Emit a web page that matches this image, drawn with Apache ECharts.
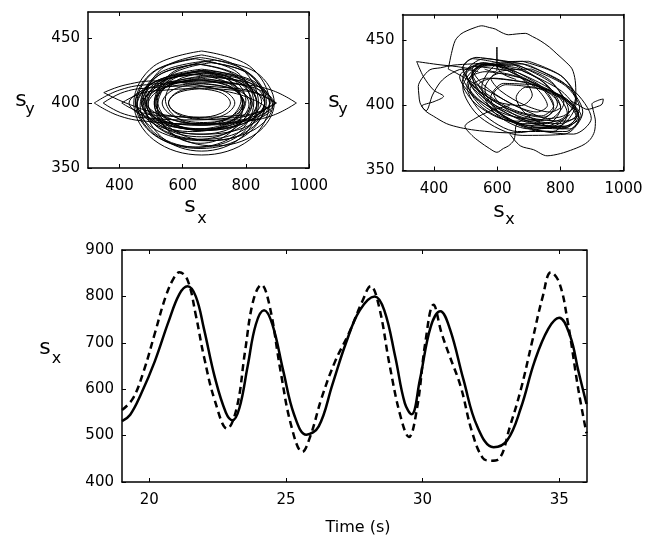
<!DOCTYPE html>
<html>
<head>
<meta charset="utf-8">
<script src="https://cdn.jsdelivr.net/npm/echarts@6/dist/echarts.min.js"></script>
<style>
html,body{margin:0;padding:0;background:#fff;}
#chart{width:650px;height:538px;}
</style>
</head>
<body>
<div id="chart"></div>
<script>
// ---------- tick labels ----------
const phaseXTicks = [400, 600, 800, 1000];
const phaseYTicks = [350, 400, 450];
const timeTicks = [20, 25, 30, 35];
const sxTicks = [400, 500, 600, 700, 800, 900];

// ---------- bottom panel: s_x over time ----------
const solidT  = [19.0,19.3,19.7,20.2,20.7,21.1,21.4,21.7,22.0,22.4,22.8,23.05,23.3,23.6,23.9,24.2,24.5,24.9,25.3,25.75,26.2,26.7,27.2,27.7,28.25,28.6,29.0,29.35,29.6,29.9,30.3,30.65,31.0,31.5,32.0,32.6,33.1,33.6,34.1,34.6,35.0,35.4,35.7,36.0];
const solidSx = [531,545,590,660,745,805,822,800,730,625,550,533,560,650,740,770,740,640,545,502,520,610,700,770,800,770,670,570,546,620,735,768,730,620,520,475,490,560,660,730,754,715,640,568];
const dashedT  = [19.0,19.4,19.8,20.2,20.6,20.9,21.1,21.4,21.7,22.0,22.4,22.85,23.2,23.5,23.8,24.1,24.4,24.8,25.2,25.6,25.9,26.3,26.8,27.3,27.8,28.1,28.4,28.8,29.2,29.5,29.8,30.1,30.4,30.7,31.0,31.4,31.8,32.2,32.5,32.8,33.2,33.6,34.0,34.4,34.7,35.0,35.3,35.7,36.0];
const dashedSx = [555,580,640,720,800,840,852,835,760,670,575,515,560,680,790,825,780,640,520,465,500,580,660,720,790,822,780,650,540,497,560,700,782,720,670,605,510,452,446,450,520,600,700,800,852,830,750,600,505];

// ---------- top-left panel: model trajectory (s_x, s_y) ----------
const leftLoops = [
 [[660,440],[812,428.3],[875,400],[812,371.7],[660,360],[508,371.7],[445,400],[508,428.3],[660,440]],
 [[655,435],[800,424.7],[860,400],[800,375.3],[655,365],[510,375.3],[450,400],[510,424.7],[655,435]],
 [[665,432],[803,423.2],[860,402],[803,380.8],[665,372],[527,380.8],[470,402],[527,423.2],[665,432]],
 [[650,430],[781,420.6],[835,398],[781,375.4],[650,366],[519,375.4],[465,398],[519,420.6],[650,430]],
 [[660,426],[784,418.4],[835,400],[784,381.6],[660,374],[536,381.6],[485,400],[536,418.4],[660,426]],
 [[670,423],[804,416.6],[860,401],[804,385.4],[670,379],[536,385.4],[480,401],[536,416.6],[670,423]],
 [[655,424],[772,417],[820,400],[772,383],[655,376],[538,383],[490,400],[538,417],[655,424]],
 [[660,419],[766,413.1],[810,399],[766,384.9],[660,379],[554,384.9],[510,399],[554,413.1],[660,419]],
 [[650,418],[749,413],[790,401],[749,389],[650,384],[551,389],[510,401],[551,413],[650,418]],
 [[665,415],[757,410.6],[795,400],[757,389.4],[665,385],[573,389.4],[535,400],[573,410.6],[665,415]],
 [[653,411],[722,407.8],[751,400],[722,392.2],[653,389],[584,392.2],[555,400],[584,407.8],[653,411]],
 [[660,412.5],[734,408.8],[765,400],[734,391.2],[660,387.5],[586,391.2],[555,400],[586,408.8],[660,412.5]],
 [[680,420],[821,414.7],[880,402],[821,389.3],[680,384],[539,389.3],[480,402],[539,414.7],[680,420]],
 [[670,425],[822,417.1],[885,398],[822,378.9],[670,371],[518,378.9],[455,398],[518,417.1],[670,425]],
 [[645,430],[765,421.5],[815,401],[765,380.5],[645,372],[525,380.5],[475,401],[525,421.5],[645,430]],
 [[660,437],[787,426.2],[840,400],[787,373.8],[660,363],[533,373.8],[480,400],[533,426.2],[660,437]],
 [[675,421],[788,414.8],[835,400],[788,385.2],[675,379],[562,385.2],[515,400],[562,414.8],[675,421]],
 [[640,418],[750,412.4],[795,399],[750,385.6],[640,380],[530,385.6],[485,399],[530,412.4],[640,418]],
 [[665,423],[750,417.1],[785,403],[750,388.9],[665,383],[580,388.9],[545,403],[580,417.1],[665,423]],
 [[655,425],[750,416.8],[790,397],[750,377.2],[655,369],[560,377.2],[520,397],[560,416.8],[655,425]],
 [[700,433],[834,423.3],[890,400],[834,376.7],[700,367],[566,376.7],[510,400],[566,423.3],[700,433]],
 [[630,422],[743,415.6],[790,400],[743,384.4],[630,378],[517,384.4],[470,400],[517,415.6],[630,422]],
 [[660,417],[822.6,412],[890,400],[822.6,388],[660,383],[497.4,388],[430,400],[497.4,412],[660,417]],
 [[650,422],[791.4,415.8],[850,401],[791.4,386.2],[650,380],[508.6,386.2],[450,401],[508.6,415.8],[650,422]],
 [[675,418],[805.8,412.4],[860,399],[805.8,385.6],[675,380],[544.2,385.6],[490,399],[544.2,412.4],[675,418]],
 [[665,424],[813.5,417],[875,400],[813.5,383],[665,376],[516.5,383],[455,400],[516.5,417],[665,424]],
 [[645,415],[768.7,410.3],[820,399],[768.7,387.7],[645,383],[521.3,387.7],[470,399],[521.3,410.3],[645,415]],
 [[690,431],[813.7,422.2],[865,401],[813.7,379.8],[690,371],[566.3,379.8],[515,401],[566.3,422.2],[690,431]],
 [[640,434],[770.8,424],[825,400],[770.8,376],[640,366],[509.2,376],[455,400],[509.2,424],[640,434]],
 [[660,425],[759,418.3],[800,402],[759,385.7],[660,379],[561,385.7],[520,402],[561,418.3],[660,425]]
];
const leftLenses = [
 [[320,400],[400,410],[500,414.4],[640,416],[780,414.4],[880,410],[960,400]],
 [[320,400],[400,390],[500,385.6],[640,384],[780,385.6],[880,390],[960,400]],
 [[348,400],[416,408.6],[500,411.7],[620,413],[740,411.7],[824,408.6],[892,400]],
 [[348,400],[416,391.4],[500,388.3],[620,387],[740,388.3],[824,391.4],[892,400]],
 [[407,400],[468,407.3],[544,409.9],[652,411],[760,409.9],[836,407.3],[897,400]],
 [[407,400],[468,392.7],[544,390.1],[652,389],[760,390.1],[836,392.7],[897,400]],
 [[350,408],[420,414],[520,417],[615,415],[720,410],[820,403],[880,394]],
 [[350,408],[420,400],[520,392],[615,389],[720,387],[820,387],[880,394]]
];

// ---------- top-right panel: measured trajectory (s_x, s_y) ----------
const rightLoops = [
 [[680,421],[802,407],[851,393],[797,386],[678,391],[562,405],[509,420],[561,426],[680,421]],
 [[668,425],[778,411],[822,394],[774,384],[672,389],[563,406],[519,424],[566,432],[668,425]],
 [[702,417],[811,405],[858,393],[815,388],[698,391],[585,404],[541,416],[589,421],[702,417]],
 [[662,429],[757,416],[801,398],[760,386],[658,391],[560,405],[521,423],[563,432],[662,429]],
 [[691,418],[812,406],[866,392],[815,384],[689,385],[567,398],[514,413],[565,421],[691,418]],
 [[651,427],[743,414],[779,400],[741,392],[649,397],[557,411],[521,425],[559,432],[651,427]],
 [[709,428],[817,415],[861,398],[815,383],[711,383],[603,395],[561,413],[605,426],[709,428]],
 [[676,427],[804,411],[858,392],[807,382],[674,386],[545,404],[491,422],[543,432],[676,427]],
 [[641,426],[725,413],[759,400],[726,395],[639,402],[556,416],[521,428],[554,433],[641,426]],
 [[721,414],[811,404],[851,391],[813,384],[719,386],[629,397],[589,409],[627,416],[721,414]],
 [[666,431],[779,416],[826,396],[777,380],[664,380],[553,394],[504,415],[551,430],[666,431]],
 [[690,420],[768,409],[801,399],[767,395],[690,400],[612,411],[580,421],[613,425],[690,420]],
 [[701,431],[840,412],[898,390],[842,378],[699,383],[559,403],[501,425],[558,436],[701,431]],
 [[631,427],[737,414],[779,398],[735,389],[629,393],[525,407],[481,422],[523,430],[631,427]],
 [[641,433],[745,418],[791,401],[747,391],[639,397],[535,413],[491,429],[533,437],[641,433]],
 [[719,416],[820,405],[859,390],[818,380],[721,381],[622,391],[579,406],[620,417],[719,416]],
 [[601,433],[678,421],[711,408],[677,400],[599,403],[523,415],[491,429],[521,436],[601,433]],
 [[760,412],[831,402],[860,390],[830,382],[760,384],[689,394],[660,406],[690,414],[760,412]],
 [[681,432],[813,417],[871,395],[815,378],[679,377],[546,391],[491,414],[544,430],[681,432]],
 [[680,434],[801,423],[851,405],[799,389],[681,386],[561,397],[509,415],[559,431],[680,434]],
 [[700,434],[807,422],[850,402],[805,385],[701,382],[593,394],[551,414],[595,431],[700,434]],
 [[650,432],[764,420],[811,402],[762,389],[649,388],[538,400],[489,418],[536,431],[650,432]],
 [[445,428],[455,440],[467,450],[485,455],[504,457.5],[530,460],[551,461.3],[575,460],[594,458.8],[615,456],[636,454.4],[660,455],[689,455.5],[712,453],[736,449.9],[765,445],[789,439.7],[815,434],[837,428.2],[847,419.3],[849,408],[838,398],[810,392],[760,390],[700,395],[640,402],[580,410],[520,418],[470,425],[445,428]],
 [[600,431],[567,432.6],[520,432],[460,431],[420,429],[387,427.5],[362,421],[350,414.7],[352,408],[355.6,402],[372,396],[398,391.8],[440,386],[482.6,383],[530,381],[588,379.6],[630,379],[673,379.2],[720,381],[760,384],[800,388],[830,393]],
 [[520,428],[470,430],[419,431.3],[345,433.8],[366,422.4],[398,412],[430,407],[400,403],[361,399.5],[375,396],[395,408],[420,418],[450,424],[490,428],[540,426]],
 [[700,392],[660,385],[657,378],[652,373],[636,369],[620,367],[599,364],[575,367],[545,372],[520,377],[498,384],[530,390],[580,396],[640,400]],
 [[640,378],[673,369],[715,366],[758,361.3],[800,363],[842,366.4],[875,370],[895,374],[908,380],[911,388],[906,394.4],[900,401],[920,404],[936,405],[932,401],[915,399],[885,397],[860,400],[830,404]],
 [[560,428],[590,426],[599,427],[599,445],[600,430],[620,424],[660,420]]
];

// ---------- chart ----------
const FONT = 'DejaVu Sans';
const grids = [
  {left: 88, top: 12, width: 221, height: 156},
  {left: 402.5, top: 14.5, width: 221, height: 156},
  {left: 122, top: 250, width: 464.5, height: 232}
];
const axisLineStyle = {show: true, onZero: false, lineStyle: {color: '#000', width: 1.5}};
const plainFmt = v => String(v);

function xPair(gi, min, max, ticks) {
  return [
    {type: 'value', gridIndex: gi, min: min, max: max, position: 'bottom',
     axisLine: axisLineStyle,
     axisTick: {show: true, inside: true, length: 4, customValues: ticks, lineStyle: {color: '#000', width: 1}},
     axisLabel: {show: true, customValues: ticks, formatter: plainFmt, color: '#000', fontSize: 15, fontFamily: FONT, margin: 11},
     splitLine: {show: false}},
    {type: 'value', gridIndex: gi, min: min, max: max, position: 'top',
     axisLine: axisLineStyle,
     axisTick: {show: true, inside: true, length: 4, customValues: ticks, lineStyle: {color: '#000', width: 1}},
     axisLabel: {show: false}, splitLine: {show: false}}
  ];
}
function yPair(gi, min, max, ticks) {
  return [
    {type: 'value', gridIndex: gi, min: min, max: max, position: 'left',
     axisLine: axisLineStyle,
     axisTick: {show: true, inside: true, length: 4, customValues: ticks, lineStyle: {color: '#000', width: 1}},
     axisLabel: {show: true, customValues: ticks, formatter: plainFmt, color: '#000', fontSize: 15, fontFamily: FONT, margin: 8},
     splitLine: {show: false}},
    {type: 'value', gridIndex: gi, min: min, max: max, position: 'right',
     axisLine: axisLineStyle,
     axisTick: {show: true, inside: true, length: 4, customValues: ticks, lineStyle: {color: '#000', width: 1}},
     axisLabel: {show: false}, splitLine: {show: false}}
  ];
}

const xAxes = [].concat(
  xPair(0, 300, 1000, phaseXTicks),
  xPair(1, 300, 1000, phaseXTicks),
  xPair(2, 19, 36, timeTicks)
);
const yAxes = [].concat(
  yPair(0, 350, 470, phaseYTicks),
  yPair(1, 350, 470, phaseYTicks),
  yPair(2, 400, 900, sxTicks)
);

const series = [];
function addLoop(pts, gi, width, smooth) {
  series.push({
    type: 'line', xAxisIndex: gi * 2, yAxisIndex: gi * 2, data: pts,
    showSymbol: false, symbol: 'none', smooth: smooth, clip: true,
    lineStyle: {color: '#000', width: width}, silent: true, animation: false
  });
}
leftLoops.forEach(p => addLoop(p, 0, 1, 0.37));
leftLenses.forEach(p => addLoop(p, 0, 1, 0.45));
rightLoops.forEach(p => addLoop(p, 1, 1, 0.3));

series.push({
  type: 'line', xAxisIndex: 4, yAxisIndex: 4,
  data: solidT.map((t, i) => [t, solidSx[i]]),
  showSymbol: false, symbol: 'none', smooth: 0.4,
  lineStyle: {color: '#000', width: 2.5}, animation: false
});
series.push({
  type: 'line', xAxisIndex: 4, yAxisIndex: 4,
  data: dashedT.map((t, i) => [t, dashedSx[i]]),
  showSymbol: false, symbol: 'none', smooth: 0.4,
  lineStyle: {color: '#000', width: 2.5, type: [7, 4.5]}, animation: false
});

function lbl(text, x, y, size) {
  return {type: 'text', x: x, y: y, silent: true,
    style: {text: text, fill: '#000', font: size + 'px "' + FONT + '"', fontSize: size, fontFamily: FONT,
            textAlign: 'center', textVerticalAlign: 'middle', align: 'center', verticalAlign: 'middle'}};
}
const graphics = [
  lbl('s', 21, 100, 22), lbl('y', 30, 110, 16),
  lbl('s', 190, 206, 22), lbl('x', 202, 219, 16),
  lbl('s', 334, 101, 22), lbl('y', 343, 110, 16),
  lbl('s', 499, 211, 22), lbl('x', 510, 220, 16),
  lbl('s', 45, 348, 22), lbl('x', 56.5, 358.5, 16),
  lbl('Time (s)', 358, 528, 16)
];

const chart = echarts.init(document.getElementById('chart'), null, {renderer: 'canvas'});
chart.setOption({
  animation: false,
  backgroundColor: '#fff',
  grid: grids,
  xAxis: xAxes,
  yAxis: yAxes,
  series: series,
  graphic: graphics
});
</script>
</body>
</html>
